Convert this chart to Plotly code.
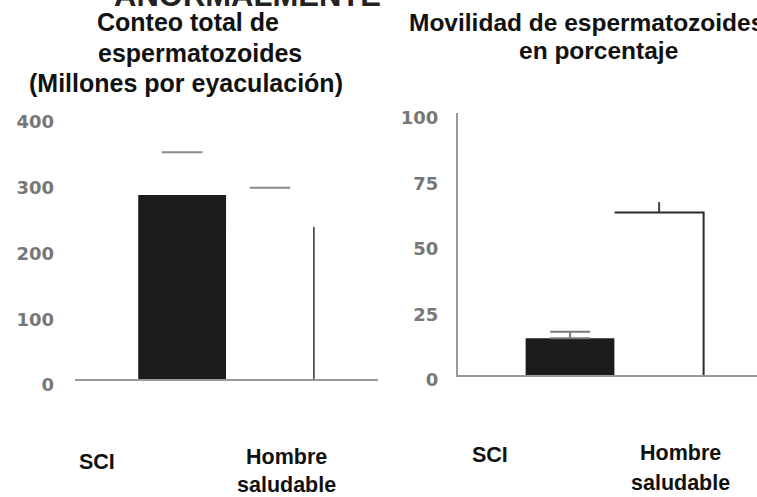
import plotly.graph_objects as go

# ---- data ----
categories = ["SCI", "Hombre saludable"]
x_pos = [0, 1]
bar_width = 1.0

count_mean = [280, 231]        # millones por eyaculación
count_err = [65, 60]
motility_mean = [14, 62]       # porcentaje
motility_err = [2.5, 4]

count_ticks = [0, 100, 200, 300, 400]
motility_ticks = [0, 25, 50, 75, 100]

title_left = ["Conteo total de", "espermatozoides", "(Millones por eyaculación)"]
title_right = ["Movilidad de espermatozoides", "en porcentaje"]
top_text = "ANORMALMENTE"

DARK = "#1c1c1c"
AXIS = "#9a9a9a"
TICKC = "#777777"
TITLE_FONT = dict(family="Liberation Sans, Arial, sans-serif", size=25, color="#111111")
TITLE_FONT_R = dict(family="Liberation Sans, Arial, sans-serif", size=24.5, color="#111111")
LABEL_FONT = dict(family="Liberation Sans, Arial, sans-serif", size=21.5, color="#111111")
TICK_FONT = dict(family="DejaVu Sans, sans-serif", size=18, color=TICKC, weight="bold")

fig = go.Figure()

# ---------------- left panel ----------------
fig.add_trace(go.Bar(x=[x_pos[0]], y=[count_mean[0]], width=[bar_width],
                     marker=dict(color=DARK, line=dict(width=0)),
                     xaxis="x", yaxis="y", showlegend=False))
fig.add_trace(go.Bar(x=[x_pos[1]], y=[count_mean[1]], width=[bar_width],
                     marker=dict(color="white", line=dict(width=0)),
                     xaxis="x", yaxis="y", showlegend=False))
# right edge of the white bar
fig.add_trace(go.Scatter(x=[x_pos[1] + bar_width / 2] * 2, y=[0, count_mean[1]],
                         mode="lines", line=dict(color="#333333", width=1.5),
                         xaxis="x", yaxis="y", showlegend=False, hoverinfo="skip"))
# error caps
fig.add_trace(go.Scatter(x=x_pos, y=[m + e for m, e in zip(count_mean, count_err)],
                         mode="markers",
                         marker=dict(symbol="line-ew", size=29,
                                     line=dict(color="#8a8a8a", width=2)),
                         xaxis="x", yaxis="y", showlegend=False, hoverinfo="skip"))

# ---------------- right panel ----------------
fig.add_trace(go.Bar(x=[x_pos[0]], y=[motility_mean[0]], width=[bar_width],
                     marker=dict(color=DARK, line=dict(width=0)),
                     error_y=dict(type="data", symmetric=False, array=[motility_err[0]],
                                  arrayminus=[0], color="#7a7a7a", thickness=2, width=20),
                     xaxis="x2", yaxis="y2", showlegend=False))
fig.add_trace(go.Bar(x=[x_pos[1]], y=[motility_mean[1]], width=[bar_width],
                     marker=dict(color="white", line=dict(width=0)),
                     error_y=dict(type="data", symmetric=False, array=[motility_err[1]],
                                  arrayminus=[0], color="#444444", thickness=2, width=0),
                     xaxis="x2", yaxis="y2", showlegend=False))
# top + right edge of the white bar
fig.add_trace(go.Scatter(x=[x_pos[1] - bar_width / 2, x_pos[1] + bar_width / 2, x_pos[1] + bar_width / 2],
                         y=[motility_mean[1], motility_mean[1], 0],
                         mode="lines", line=dict(color="#2a2a2a", width=2),
                         xaxis="x2", yaxis="y2", showlegend=False, hoverinfo="skip"))

W, H = 757, 497

def px(x):
    return x / W

def py(y):
    return 1 - y / H

fig.update_layout(
    width=W, height=H,
    margin=dict(l=0, r=0, t=0, b=0, pad=0, autoexpand=False),
    paper_bgcolor="white", plot_bgcolor="white",
    barmode="overlay", showlegend=False,
    xaxis=dict(domain=[px(75), px(378)], range=[-1.22, 2.23], automargin=False,
               showgrid=False, zeroline=False, showticklabels=False,
               showline=True, linecolor=AXIS, linewidth=2),
    yaxis=dict(domain=[py(379), py(116)], range=[0, 400], automargin=False,
               tickvals=count_ticks, ticktext=[str(t) for t in count_ticks],
               showgrid=False, zeroline=False, showline=False,
               tickfont=TICK_FONT, ticklabelstandoff=20, ticklabelshift=6),
    xaxis2=dict(domain=[px(458), 1.0], range=[-1.26, 2.10], automargin=False,
                showgrid=False, zeroline=False, showticklabels=False,
                showline=True, linecolor=AXIS, linewidth=2, anchor="y2"),
    yaxis2=dict(domain=[py(375), py(113)], range=[0, 100], automargin=False,
                tickvals=motility_ticks, ticktext=[str(t) for t in motility_ticks],
                showgrid=False, zeroline=False, showline=True,
                linecolor=AXIS, linewidth=2, anchor="x2",
                tickfont=TICK_FONT, ticklabelstandoff=14, ticklabelshift=5),
)

ann = []
# cut-off heading at the very top
ann.append(dict(text=f"<b>{top_text}</b>", x=px(112), y=py(15), xanchor="left", yanchor="bottom",
                font=dict(family="Liberation Sans, Arial, sans-serif", size=31, color="#222222")))
# left titles
for txt, cx, cy in zip(title_left, [188, 200, 186], [22, 53, 83]):
    ann.append(dict(text=f"<b>{txt}</b>", x=px(cx), y=py(cy), xanchor="center", yanchor="middle",
                    font=TITLE_FONT))
# right titles
ann.append(dict(text=f"<b>{title_right[0]}</b>", x=px(407), y=py(23), xanchor="left", yanchor="middle",
                font=TITLE_FONT_R))
ann.append(dict(text=f"<b>{title_right[1]}</b>", x=px(598), y=py(50), xanchor="center", yanchor="middle",
                font=TITLE_FONT_R))

# category labels
def cat_lines(c):
    parts = c.split(" ")
    return parts if len(parts) > 1 else [c]

label_pos = [
    (97, [462]), (286, [457, 485]),
    (490, [455]), (680, [453, 483]),
]
for i, (cx, ys) in enumerate(label_pos):
    cat = categories[i % 2]
    for line, yy in zip(cat_lines(cat), ys):
        ann.append(dict(text=f"<b>{line}</b>", x=px(cx), y=py(yy), xanchor="center", yanchor="middle",
                        font=LABEL_FONT))

for a in ann:
    a.update(xref="paper", yref="paper", showarrow=False)
fig.update_layout(annotations=ann)

fig.write_html("out.html", config={"displayModeBar": False},
               post_script="document.body.style.margin='0';document.body.style.overflow='hidden';")
